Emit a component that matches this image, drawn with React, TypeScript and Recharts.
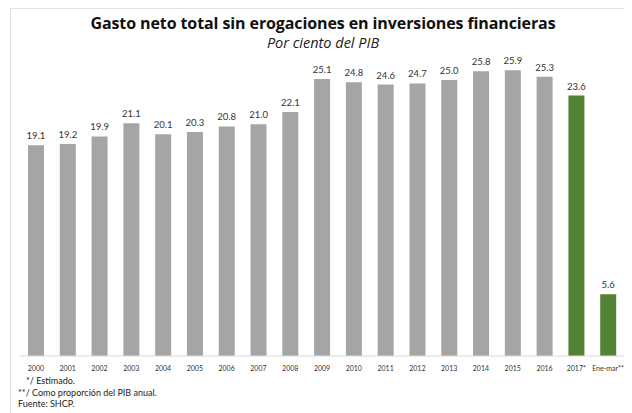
import { BarChart, Bar, XAxis, YAxis, LabelList, Cell } from 'recharts'

const years = [
  '2000', '2001', '2002', '2003', '2004', '2005', '2006', '2007', '2008', '2009',
  '2010', '2011', '2012', '2013', '2014', '2015', '2016', '2017*', 'Ene-mar**',
]
const gasto = [
  19.1, 19.2, 19.9, 21.1, 20.1, 20.3, 20.8, 21.0, 22.1, 25.1,
  24.8, 24.6, 24.7, 25.0, 25.8, 25.9, 25.3, 23.6, 5.6,
]
const estimated = ['2017*', 'Ene-mar**']
const notes = ['*/ Estimado.', '**/ Como proporción del PIB anual.', 'Fuente: SHCP.']

const font = 'Lato, "Open Sans", sans-serif'
const titleFont = '"Open Sans", Lato, sans-serif'

export default function App() {
  const data = years.map((year, i) => ({ year, value: gasto[i] }))

  return (
    <div style={{ position: 'relative', width: 624, height: 405, fontFamily: font }}>
      <div
        style={{
          position: 'absolute',
          left: 2,
          top: 0,
          right: 0,
          bottom: 0,
          borderTop: '1px solid #e2e2e2',
          borderLeft: '1px solid #e2e2e2',
        }}
      />
      <div
        style={{
          position: 'absolute',
          left: 0,
          width: 630,
          top: 7,
          height: 17,
          lineHeight: '17px',
          textAlign: 'center',
          fontFamily: titleFont,
          fontWeight: 700,
          fontSize: 16,
          letterSpacing: -0.1,
          color: '#111',
        }}
      >
        Gasto neto total sin erogaciones en inversiones financieras
      </div>
      <div
        style={{
          position: 'absolute',
          left: 0,
          width: 630,
          top: 27,
          height: 15,
          lineHeight: '15px',
          textAlign: 'center',
          fontFamily: titleFont,
          fontStyle: 'italic',
          fontSize: 14.5,
          color: '#222',
        }}
      >
        Por ciento del PIB
      </div>
      <div style={{ position: 'absolute', left: 0, top: 0 }}>
        <BarChart
          width={624}
          height={380}
          data={data}
          margin={{ top: 39, right: 8, bottom: 0, left: 12 }}
        >
          <XAxis
            dataKey="year"
            interval={0}
            height={32}
            tickLine={false}
            tickMargin={4}
            axisLine={{ stroke: '#d9d9d9' }}
            tick={{ fontSize: 7, fill: '#333', fontFamily: font }}
          />
          <YAxis hide domain={[0, 28]} />
          <Bar dataKey="value" barSize={16} isAnimationActive={false}>
            {data.map((d) => (
              <Cell key={d.year} fill={estimated.includes(d.year) ? '#548235' : '#a5a5a5'} />
            ))}
            <LabelList
              dataKey="value"
              position="top"
              offset={6}
              formatter={(v: number) => v.toFixed(1)}
              style={{ fontSize: 9.5, fill: '#333', fontFamily: font }}
            />
          </Bar>
        </BarChart>
      </div>
      <div
        style={{
          position: 'absolute',
          left: 10,
          top: 367,
          fontSize: 9,
          lineHeight: '11.5px',
          color: '#222',
        }}
      >
        <div style={{ paddingLeft: 8 }}>{notes[0]}</div>
        <div>{notes[1]}</div>
        <div>{notes[2]}</div>
      </div>
    </div>
  )
}
